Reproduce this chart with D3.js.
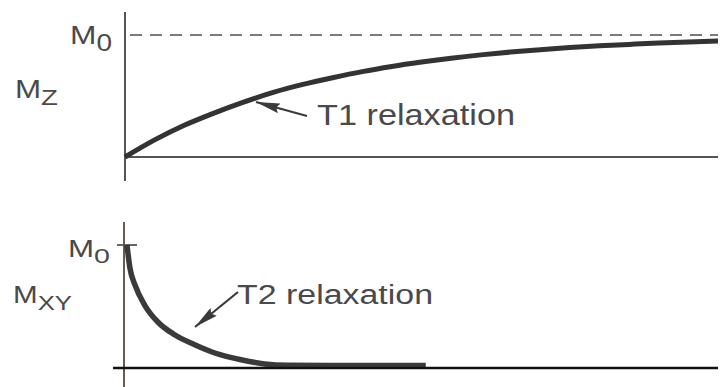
<!DOCTYPE html>
<html>
<head>
<meta charset="utf-8">
<script src="https://cdn.jsdelivr.net/npm/d3@7"></script>
<style>
  html, body { margin: 0; padding: 0; background: #fff; }
  svg { display: block; }
  text { font-family: "Liberation Sans", Arial, sans-serif; fill: #4a4a4a; }
</style>
</head>
<body>
<svg id="chart" width="723" height="387"></svg>
<script>
// Longitudinal recovery (fraction of M0) over time, arbitrary units
const t1Time  = [0, 0.5, 1, 1.5, 2, 2.5, 3, 3.5, 4, 4.5, 5, 5.5, 6, 6.5, 7, 7.5, 8, 8.5, 9, 9.5, 10];
const t1Value = [0, 0.14, 0.26, 0.36, 0.45, 0.53, 0.595, 0.65, 0.70, 0.742, 0.778, 0.81, 0.837, 0.86, 0.88, 0.897, 0.911, 0.923, 0.934, 0.943, 0.95];

// Transverse decay (fraction of M0) over time, same units
const t2Time  = [0.05, 0.1, 0.185, 0.35, 0.57, 0.86, 1.2, 1.53, 1.99, 2.37, 2.76, 3.5, 4.3, 5.08];
const t2Value = [1.0, 0.813, 0.675, 0.51, 0.374, 0.268, 0.187, 0.122, 0.065, 0.033, 0.022, 0.02, 0.02, 0.02];

// Reference level and label texts
const levelValue = [1];
const curveLabels = ["T1 relaxation", "T2 relaxation"];

const svg = d3.select("#chart");

// filled arrowhead, tip at the end of the line
const defs = svg.append("defs");
defs.append("marker")
  .attr("id", "head")
  .attr("viewBox", "0 0 24 10")
  .attr("refX", 24).attr("refY", 5)
  .attr("markerWidth", 24).attr("markerHeight", 10)
  .attr("markerUnits", "userSpaceOnUse")
  .attr("orient", "auto")
  .append("path")
  .attr("d", "M24,5 L0,0 L3,5 L0,10 Z")
  .attr("fill", "#3a3a3a");

// ---------- Upper panel: Mz ----------
const xTop = d3.scaleLinear().domain([0, 10]).range([125, 718]);
const yTop = d3.scaleLinear().domain([0, 1]).range([157, 35]);

const gTop = svg.append("g");

// M0 reference (dashed)
gTop.selectAll("line.level").data(levelValue).join("line")
  .attr("class", "level")
  .attr("x1", xTop(0) + 5).attr("x2", xTop(10))
  .attr("y1", d => yTop(d)).attr("y2", d => yTop(d))
  .attr("stroke", "#7a7a7a").attr("stroke-width", 1.8)
  .attr("stroke-dasharray", "12,8");

// axes
gTop.append("line")
  .attr("x1", xTop(0)).attr("x2", xTop(0))
  .attr("y1", 12).attr("y2", 181)
  .attr("stroke", "#555").attr("stroke-width", 2);
gTop.append("line")
  .attr("x1", xTop(0)).attr("x2", xTop(10))
  .attr("y1", yTop(0)).attr("y2", yTop(0))
  .attr("stroke", "#555").attr("stroke-width", 2);

const lineTop = d3.line()
  .x((d, i) => xTop(t1Time[i]))
  .y(d => yTop(d))
  .curve(d3.curveMonotoneX);

gTop.append("path")
  .datum(t1Value)
  .attr("d", lineTop)
  .attr("fill", "none")
  .attr("stroke", "#333")
  .attr("stroke-width", 5)
  .attr("stroke-linecap", "butt");

// labels
const m0Top = gTop.append("text")
  .attr("x", 70).attr("y", 44)
  .attr("font-size", 26)
  .attr("textLength", 42).attr("lengthAdjust", "spacingAndGlyphs");
m0Top.append("tspan").text("M");
m0Top.append("tspan").attr("dy", 7).attr("font-size", 23).text("0");

const mz = gTop.append("text")
  .attr("x", 15).attr("y", 98)
  .attr("font-size", 25)
  .attr("textLength", 43).attr("lengthAdjust", "spacingAndGlyphs");
mz.append("tspan").text("M");
mz.append("tspan").attr("dy", 7).attr("font-size", 22).text("Z");

gTop.append("line")
  .attr("x1", 307).attr("y1", 116)
  .attr("x2", 256).attr("y2", 102)
  .attr("stroke", "#3a3a3a").attr("stroke-width", 2.2)
  .attr("marker-end", "url(#head)");

gTop.append("text")
  .attr("x", 317).attr("y", 125)
  .attr("font-size", 29)
  .attr("textLength", 198).attr("lengthAdjust", "spacingAndGlyphs")
  .text(curveLabels[0]);

// ---------- Lower panel: Mxy ----------
const xBot = d3.scaleLinear().domain([0, 10]).range([124, 718]);
const yBot = d3.scaleLinear().domain([0, 1]).range([368, 245]);

const gBot = svg.append("g");

gBot.append("line")
  .attr("x1", xBot(0)).attr("x2", xBot(0))
  .attr("y1", 222).attr("y2", 387)
  .attr("stroke", "#6a5a55").attr("stroke-width", 2);

// M0 tick
gBot.selectAll("line.tick").data(levelValue).join("line")
  .attr("class", "tick")
  .attr("x1", xBot(0) - 7).attr("x2", xBot(0) + 13)
  .attr("y1", d => yBot(d)).attr("y2", d => yBot(d))
  .attr("stroke", "#555").attr("stroke-width", 1.8);

const lineBot = d3.line()
  .x((d, i) => xBot(t2Time[i]))
  .y(d => yBot(d))
  .curve(d3.curveMonotoneX);

gBot.append("path")
  .datum(t2Value)
  .attr("d", lineBot)
  .attr("fill", "none")
  .attr("stroke", "#3a3a3a")
  .attr("stroke-width", 5.5)
  .attr("stroke-linecap", "butt");

gBot.append("line")
  .attr("x1", 113).attr("x2", xBot(10))
  .attr("y1", yBot(0)).attr("y2", yBot(0))
  .attr("stroke", "#111").attr("stroke-width", 2.6);

const m0Bot = gBot.append("text")
  .attr("x", 68).attr("y", 257)
  .attr("font-size", 23)
  .attr("textLength", 42).attr("lengthAdjust", "spacingAndGlyphs");
m0Bot.append("tspan").text("M");
m0Bot.append("tspan").attr("dy", 6).attr("font-size", 21).text("0");

const mxy = gBot.append("text")
  .attr("x", 13).attr("y", 303)
  .attr("font-size", 23)
  .attr("textLength", 59).attr("lengthAdjust", "spacingAndGlyphs");
mxy.append("tspan").text("M");
mxy.append("tspan").attr("dy", 7).attr("font-size", 20).text("XY");

gBot.append("line")
  .attr("x1", 238).attr("y1", 292)
  .attr("x2", 195).attr("y2", 327)
  .attr("stroke", "#3a3a3a").attr("stroke-width", 2.2)
  .attr("marker-end", "url(#head)");

gBot.append("text")
  .attr("x", 237).attr("y", 304)
  .attr("font-size", 27)
  .attr("textLength", 196).attr("lengthAdjust", "spacingAndGlyphs")
  .text(curveLabels[1]);
</script>
</body>
</html>
